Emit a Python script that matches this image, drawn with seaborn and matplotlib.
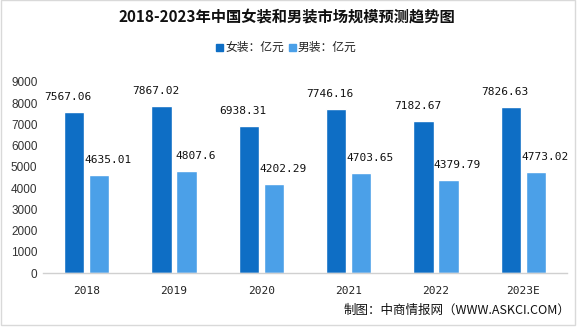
import matplotlib
matplotlib.use("Agg")
import matplotlib.pyplot as plt
from matplotlib.patches import Rectangle
import pandas as pd
import seaborn as sns

years = ["2018", "2019", "2020", "2021", "2022", "2023E"]
women = [7567.06, 7867.02, 6938.31, 7746.16, 7182.67, 7826.63]
men = [4635.01, 4807.6, 4202.29, 4703.65, 4379.79, 4773.02]
series_names = ["女装：亿元", "男装：亿元"]
women_labels = ["7567.06", "7867.02", "6938.31", "7746.16", "7182.67", "7826.63"]
men_labels = ["4635.01", "4807.6", "4202.29", "4703.65", "4379.79", "4773.02"]
yticks = [0, 1000, 2000, 3000, 4000, 5000, 6000, 7000, 8000, 9000]

df = pd.DataFrame({
    "year": years * 2,
    "value": women + men,
    "series": [series_names[0]] * len(years) + [series_names[1]] * len(years),
})

sns.set_theme(style="white")
plt.rcParams["font.family"] = ["Noto Sans CJK SC", "DejaVu Sans"]

dark = "#0E6EC5"
light = "#4BA0E8"

fig = plt.figure(figsize=(5.85, 3.27), dpi=100)
ax = fig.add_axes([43 / 585, 1 - 273 / 327, 524 / 585, (273 - 82) / 327])

sns.barplot(data=df, x="year", y="value", hue="series", order=years,
            hue_order=series_names, palette=[dark, light],
            width=0.57, gap=0.19, saturation=1, legend=False, ax=ax)

ax.set_ylim(0, 9000)
ax.set_xlim(-0.5, len(years) - 0.5)
ax.set_yticks(yticks)
ax.set_yticklabels([str(t) for t in yticks], fontsize=8.5, color="#333333",
                   family=["Liberation Sans", "DejaVu Sans"])
ax.set_xticks(range(len(years)))
ax.set_xticklabels(years, fontsize=8, color="#222222",
                   family=["DejaVu Sans Mono"])
ax.tick_params(axis="both", length=0, pad=4)
ax.tick_params(axis="x", pad=9)
ax.set_xlabel("")
ax.set_ylabel("")
for s in ["top", "right", "left"]:
    ax.spines[s].set_visible(False)
ax.spines["bottom"].set_color("#D0D0D0")
ax.spines["bottom"].set_linewidth(1.0)

# value labels above each bar
slot = 0.57 / 2
for i in range(len(years)):
    ax.annotate(women_labels[i], (i - slot / 2, women[i]),
                xytext=(-6, 10), textcoords="offset pixels",
                ha="center", va="bottom", fontsize=8,
                family=["DejaVu Sans Mono"], color="#111111")
    ax.annotate(men_labels[i], (i + slot / 2, men[i]),
                xytext=(9, 10), textcoords="offset pixels",
                ha="center", va="bottom", fontsize=8,
                family=["DejaVu Sans Mono"], color="#111111")

# title
fig.text(287 / 585, 1 - 17 / 327, "2018-2023年中国女装和男装市场规模预测趋势图",
         ha="center", va="center", fontsize=11, fontweight="bold",
         color="#111111")

# legend
fig.patches.append(Rectangle((216 / 585, 1 - 51 / 327), 7 / 585, 7 / 327,
                             transform=fig.transFigure, color=dark))
fig.text(225 / 585, 1 - 47.5 / 327, series_names[0], ha="left", va="center",
         fontsize=8.5, color="#222222")
fig.patches.append(Rectangle((289 / 585, 1 - 51 / 327), 7 / 585, 7 / 327,
                             transform=fig.transFigure, color=light))
fig.text(298 / 585, 1 - 47.5 / 327, series_names[1], ha="left", va="center",
         fontsize=8.5, color="#222222")

# source note
fig.text(570 / 585, 1 - 310 / 327, "制图：中商情报网（WWW.ASKCI.COM）",
         ha="right", va="center", fontsize=9, color="#111111")

# outer frame
fig.patches.append(Rectangle((1 / 585, 1 - 325 / 327), 574 / 585, 325 / 327,
                             transform=fig.transFigure, fill=False,
                             edgecolor="#D9D9D9", linewidth=1))

fig.savefig("out.png", dpi=100)
